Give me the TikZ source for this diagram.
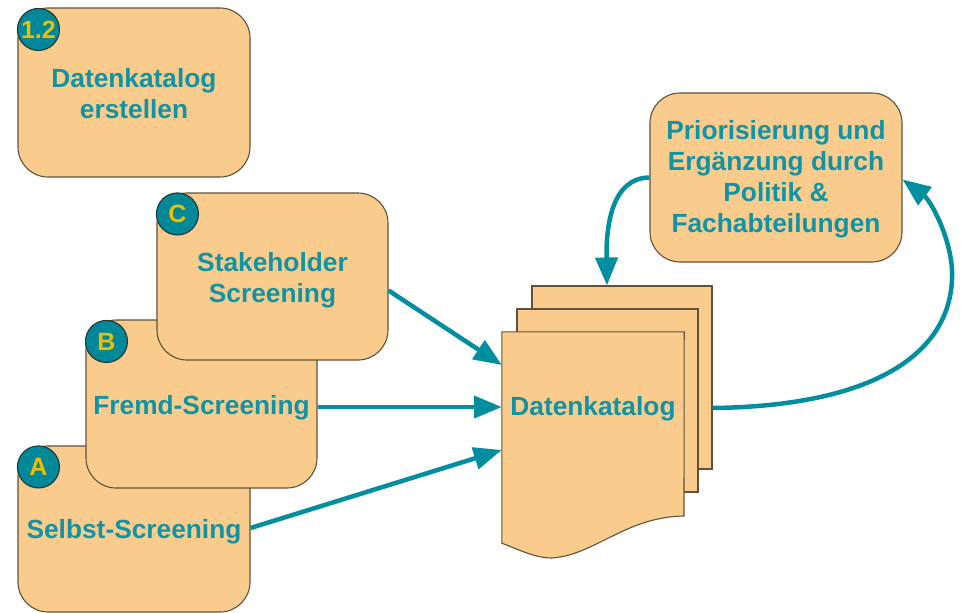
\documentclass[tikz,border=0pt]{standalone}
\usepackage{fontspec}
\setmainfont{Liberation Sans}
\usetikzlibrary{arrows.meta}
\definecolor{boxfill}{RGB}{249,203,140}
\definecolor{boxline}{RGB}{95,82,60}
\definecolor{txt}{RGB}{16,148,165}
\definecolor{arrowc}{RGB}{0,142,160}
\definecolor{badge}{RGB}{0,136,152}
\definecolor{badgeline}{RGB}{30,55,55}
\definecolor{badgetxt}{RGB}{240,190,0}
\tikzset{
  stepbox/.style={draw=boxline, fill=boxfill, line width=1.1pt, rounded corners=30pt, inner sep=0pt},
  steptext/.style={text=txt, font=\bfseries\fontsize{26.3}{31}\selectfont, align=center, inner sep=0pt},
  page/.style={draw=boxline, fill=boxfill, line width=1.1pt, inner sep=0pt},
  badgenode/.style={circle, fill=badge, draw=badgeline, line width=1.1pt, minimum size=42pt,
    inner sep=0pt, text=badgetxt, font=\bfseries\fontsize{25}{25}\selectfont},
  flow/.style={draw=arrowc, line width=4.5pt, -{Triangle[length=28pt,width=22pt]}}
}
\begin{document}
\begin{tikzpicture}[x=1pt,y=-1pt]
\useasboundingbox (0,0) rectangle (961,613);
% box 1.2
\node[stepbox, minimum width=232pt, minimum height=169pt,
  label={[steptext,yshift=-1.5pt]center:Datenkatalog\\erstellen}] (b12) at (134,92.5) {};
\node[badgenode] (c12) at ([xshift=21pt,yshift=-22pt]b12.north west) {1.2};
% Priorisierung box
\node[stepbox, minimum width=252pt, minimum height=169pt,
  label={[steptext,yshift=-2pt]center:Priorisierung und\\Ergänzung durch\\Politik \&\\Fachabteilungen}] (prio) at (776,177.5) {};
% document stack
\node[page, minimum width=180pt, minimum height=183pt] (back) at (622,377.5) {};
\node[page, minimum width=181pt, minimum height=183pt] (mid) at (607.5,400.5) {};
\node[minimum width=182pt, minimum height=211pt, inner sep=0pt] (front) at (593,437.5) {};
\draw[page] (front.north west) -- (front.north east) -- (684,516)
  .. controls (625,517) and (595,555) .. (552,558)
  .. controls (535,558) and (520,550) .. (front.south west) -- cycle;
\node[steptext] (dk) at (593,409) {Datenkatalog};
% screening boxes
\node[stepbox, minimum width=232pt, minimum height=166pt,
  label={[steptext,yshift=-2.5pt]center:Selbst-Screening}] (A) at (134,529) {};
\node[badgenode] (cA) at ([xshift=21pt,yshift=-21.5pt]A.north west) {A};
\node[stepbox, minimum width=231pt, minimum height=168pt,
  label={[steptext,yshift=-4pt]center:Fremd-Screening}] (B) at (201.5,404) {};
\node[badgenode] (cB) at ([xshift=21pt,yshift=-22pt]B.north west) {B};
\node[stepbox, minimum width=231pt, minimum height=167pt,
  label={[steptext,yshift=-4pt]center:Stakeholder\\Screening}] (C) at (272.5,276.5) {};
\node[badgenode] (cC) at ([xshift=21pt,yshift=-21.5pt]C.north west) {C};
% arrows
\draw[flow] ([yshift=-14pt]C.east) -- ([yshift=72.5pt]front.west);
\draw[flow] ([yshift=-3pt]B.east) -- ([yshift=30.5pt]front.west);
\draw[flow] ([yshift=1pt]A.east) -- ([yshift=-12.5pt]front.west);
\draw[flow] ([yshift=-30.5pt]back.east) .. controls (880,406) and (955,350) .. (952,270)
  .. controls (950,235) and (930,200) .. ([yshift=-2pt]prio.east);
\draw[flow] (prio.west) .. controls (612,178) and (606,225) .. ([xshift=-15pt]back.north);
\end{tikzpicture}
\end{document}
